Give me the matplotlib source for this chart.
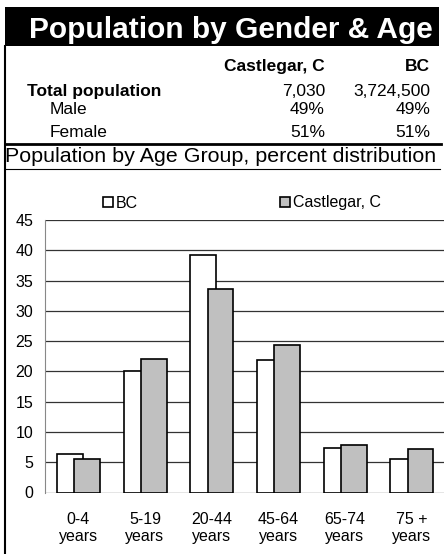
import numpy as np
import matplotlib.pyplot as plt
from matplotlib.patches import Rectangle
from matplotlib.lines import Line2D

plt.rcParams["font.family"] = ["Liberation Sans", "DejaVu Sans"]

# Data
age_groups = ["0-4\nyears", "5-19\nyears", "20-44\nyears", "45-64\nyears", "65-74\nyears", "75 +\nyears"]
bc_pct = [6.3, 20.0, 39.2, 21.8, 7.3, 5.5]
castlegar_pct = [5.6, 22.0, 33.6, 24.3, 7.8, 7.2]

table_columns = ["Castlegar, C", "BC"]
table_rows = ["Total population", "Male", "Female"]
castlegar_values = ["7,030", "49%", "51%"]
bc_values = ["3,724,500", "49%", "51%"]

W, H = 444, 554


def fx(x):
    return x / W


def fy(y):
    return 1 - y / H


fig = plt.figure(figsize=(W / 100, H / 100), dpi=100)

# Title band
fig.patches.append(Rectangle((fx(5), fy(46)), fx(434), 39 / H, transform=fig.transFigure,
                             facecolor="black", edgecolor="none"))
fig.text(fx(231), fy(37.5), "Population by Gender & Age", color="white", fontsize=21.5,
         fontweight="bold", ha="center", va="baseline")

# Table
fig.text(fx(325), fy(71), table_columns[0], fontsize=12.5, fontweight="bold", ha="right", va="baseline")
fig.text(fx(430), fy(71), table_columns[1], fontsize=12.5, fontweight="bold", ha="right", va="baseline")
row_y = [96, 114, 137]
row_x = [27, 50, 50]
for i, label in enumerate(table_rows):
    weight = "bold" if i == 0 else "normal"
    fig.text(fx(row_x[i]), fy(row_y[i]), label, fontsize=12.5, fontweight=weight, ha="left", va="baseline")
    fig.text(fx(325), fy(row_y[i]), castlegar_values[i], fontsize=12.5, ha="right", va="baseline")
    fig.text(fx(430), fy(row_y[i]), bc_values[i], fontsize=12.5, ha="right", va="baseline")

# Frame lines
fig.add_artist(Line2D([fx(5), fx(5)], [fy(46), 0], color="black", lw=1.5, transform=fig.transFigure))
fig.add_artist(Line2D([fx(5), fx(441)], [fy(144), fy(144)], color="black", lw=2, transform=fig.transFigure))
fig.add_artist(Line2D([fx(5), fx(440)], [fy(169), fy(169)], color="black", lw=0.8, transform=fig.transFigure))

fig.text(fx(5), fy(162), "Population by Age Group, percent distribution", fontsize=15.4,
         ha="left", va="baseline")

# Chart
ax = fig.add_axes([fx(45), fy(492.5), 400 / W, (492.5 - 220) / H])
x = np.arange(len(age_groups))
bar_w = 0.385
ax.bar(x - 0.13, bc_pct, bar_w, color="white", edgecolor="black", lw=1.2, label="BC", zorder=3)
ax.bar(x + 0.13, castlegar_pct, bar_w, color="#C0C0C0", edgecolor="black", lw=1.2,
       label="Castlegar, C", zorder=4)

ax.set_xlim(-0.5, 5.5)
ax.set_ylim(0, 45)
ax.set_yticks(np.arange(0, 46, 5))
ax.set_xticks(x)
ax.set_xticklabels(age_groups, fontsize=11.5, linespacing=1.2)
ax.tick_params(axis="y", length=0, pad=8.5, labelsize=11.5)
ax.tick_params(axis="x", length=0, pad=14)
ax.grid(axis="y", color="#333333", lw=0.9, zorder=0)
for side in ["top", "right", "bottom"]:
    ax.spines[side].set_visible(False)
ax.spines["left"].set_color("#888888")
ax.spines["left"].set_linewidth(0.8)

ax.legend(loc="center", bbox_to_anchor=(fx(242), fy(203)), bbox_transform=fig.transFigure,
          ncol=2, frameon=False, fontsize=11.5, handlelength=0.63, handleheight=0.63,
          handletextpad=0.15, columnspacing=8.9, borderpad=0)

plt.savefig("out.png", dpi=100)
